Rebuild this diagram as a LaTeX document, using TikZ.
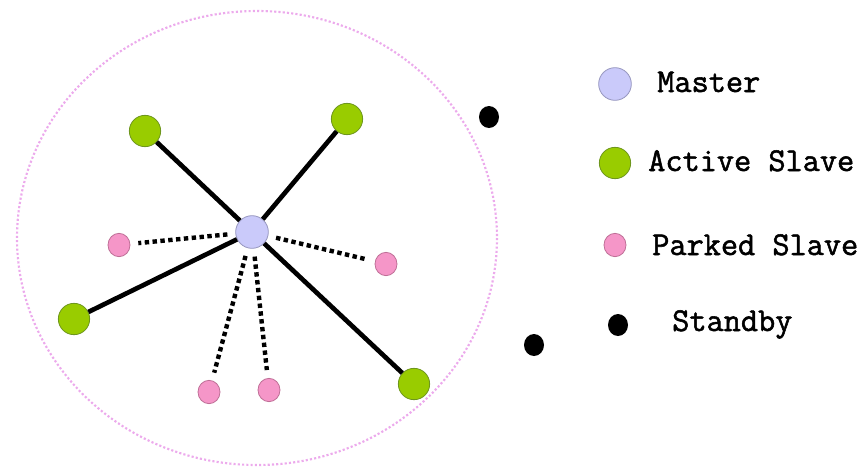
\documentclass[tikz,border=0pt]{standalone}
\usepackage{fontspec}
\newfontfamily\legendfont{Latin Modern Mono}[FakeBold=1.6]
\usetikzlibrary{shapes.geometric}

\definecolor{masterfill}{RGB}{202,202,250}
\definecolor{masterline}{RGB}{150,150,190}
\definecolor{activefill}{RGB}{153,204,0}
\definecolor{activeline}{RGB}{110,150,30}
\definecolor{parkedfill}{RGB}{245,150,200}
\definecolor{parkedline}{RGB}{190,110,150}
\definecolor{rangeline}{RGB}{236,170,236}

\begin{document}
\begin{tikzpicture}[x=0.75pt,y=-0.75pt,
  master/.style={circle,draw=masterline,fill=masterfill,line width=.6pt,inner sep=0pt,minimum size=24.5pt},
  active/.style={circle,draw=activeline,fill=activefill,line width=.6pt,inner sep=0pt,minimum size=23.5pt},
  parked/.style={ellipse,draw=parkedline,fill=parkedfill,line width=.6pt,inner sep=0pt,minimum width=16.5pt,minimum height=17.5pt},
  standby/.style={ellipse,fill=black,inner sep=0pt,minimum width=15pt,minimum height=16.5pt},
  link/.style={line width=3.5pt},
  parklink/.style={line width=3.3pt,dash pattern=on 3.3pt off 2.6pt,shorten <=6pt,shorten >=6pt},
  legend/.style={anchor=base west,inner sep=0pt,font=\fontsize{25}{30}\selectfont\legendfont}]
\useasboundingbox (0,0) rectangle (865,469);
% piconet range
\draw[rangeline,line width=1.6pt,dash pattern=on 1.6pt off 1.6pt] (257,238) ellipse [x radius=240,y radius=227];
% master and its slaves
\node[master] (m) at (252,232) {};
\node[active] (a1) at (145,131) {};
\node[active] (a2) at (347,119) {};
\node[active] (a3) at (74,319) {};
\node[active] (a4) at (414,384) {};
\node[parked] (p1) at (119,245) {};
\node[parked] (p2) at (386,264) {};
\node[parked] (p3) at (209,392) {};
\node[parked] (p4) at (269,390) {};
\node[standby] (s1) at (489,117) {};
\node[standby] (s2) at (534,345) {};
\foreach \a in {a1,a2,a3,a4}
  \draw[link] (m) -- (\a);
\foreach \p in {p1,p2,p3,p4}
  \draw[parklink] (m) -- (\p);
% legend
\node[master] (lm) at (615,84) {};
\node[active] (la) at (615,163) {};
\node[parked] (lp) at (615,245) {};
\node[standby] (ls) at (618,325) {};
\node[legend] (tm) at (657,92) {Master};
\node[legend] (ta) at (648,171) {Active Slave};
\node[legend] (tp) at (652,255) {Parked Slave};
\node[legend] (ts) at (672,331) {Standby};
\end{tikzpicture}
\end{document}
